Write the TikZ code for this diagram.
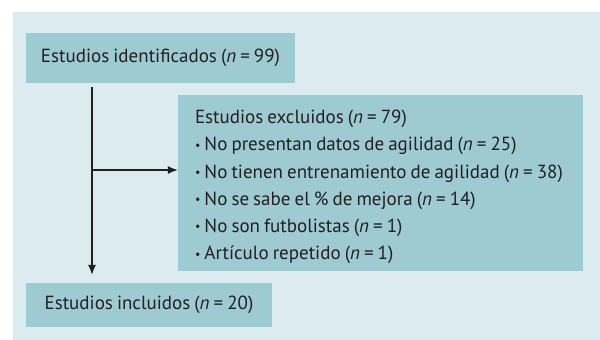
\documentclass[tikz,border=0pt]{standalone}
\usepackage{fontspec}
\setmainfont[WordSpace=0.8]{PT Sans}
\usetikzlibrary{arrows.meta}
\definecolor{fondo}{HTML}{DCEBEF}
\definecolor{caja}{HTML}{9ECAD2}
\definecolor{texto}{HTML}{231F20}
\tikzset{
  cajita/.style={fill=caja, text=texto, inner sep=0pt, font=\fontsize{19}{27.2}\selectfont},
  flecha/.style={-{Latex[length=10pt,width=8pt]}, line width=1.3pt, texto}
}
\newcommand{\nn}[1]{(\textit{n}~=~#1)}
\newcommand{\punto}{{\fontsize{12}{12}\selectfont\raisebox{1.5pt}{•}}\ }
\begin{document}
\begin{tikzpicture}[x=1pt,y=-1pt]
        \useasboundingbox (0,0) rectangle (600,340);
        \fill [fondo] (13,12) rectangle (600,340);
        \node [cajita, minimum width=269pt, minimum height=50pt] (identificados) at (160.5,58) {Estudios identificados \nn{99}};
        \node [cajita, minimum width=405pt, minimum height=176pt] (excluidos) at (380.5,183) {};
        \node [cajita, fill=none, anchor=west, align=left] (motivos) at ([xshift=17pt,yshift=-4pt]excluidos.west) {Estudios excluidos \nn{79}\\
            \punto No presentan datos de agilidad \nn{25}\\
            \punto No tienen entrenamiento de agilidad \nn{38}\\
            \punto No se sabe el \% de mejora \nn{14}\\
            \punto No son futbolistas \nn{1}\\
            \punto Artículo repetido \nn{1}};
        \node [cajita, minimum width=246pt, minimum height=44pt] (incluidos) at (149,305) {Estudios incluidos \nn{20}};
        \coordinate (rama) at (92,170);
        \draw [flecha] ([yshift=-4pt]identificados.south -| rama) -- ([yshift=8pt]incluidos.north -| rama);
        \draw [flecha] (rama) -- (rama -| excluidos.west);
\end{tikzpicture}
\end{document}
